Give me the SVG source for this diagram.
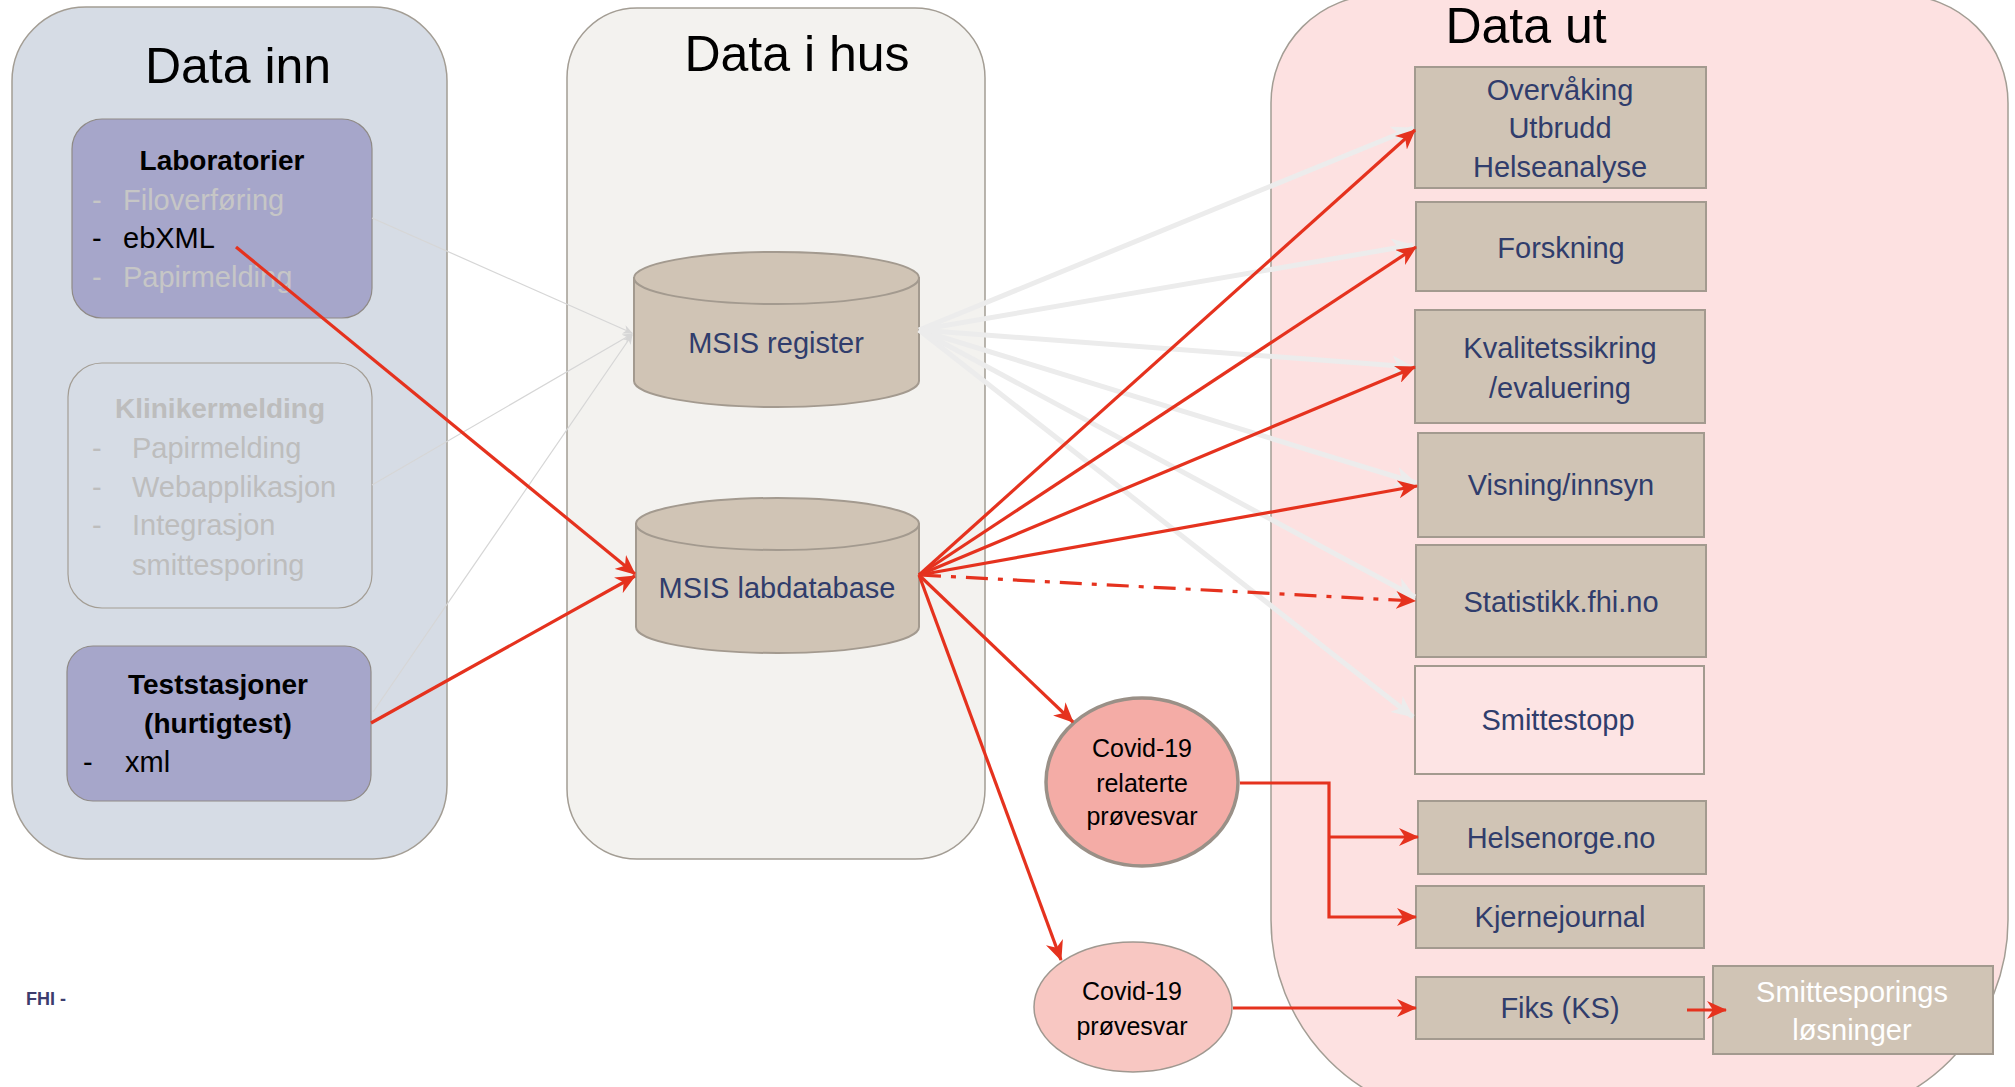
<svg xmlns="http://www.w3.org/2000/svg" width="2015" height="1087" viewBox="0 0 2015 1087">
<style>
text{font-family:"Liberation Sans",Arial,sans-serif}
.title{font-size:50px;fill:#000;text-anchor:middle}
.panel{stroke:#a39d94;stroke-width:1.5}
.lav{fill:#a6a6ca;stroke:#8f8a86;stroke-width:1.2}
.bx{fill:#d0c4b5;stroke:#a39a8f;stroke-width:2}
.bt{font-size:29px;fill:#303d6c;text-anchor:middle}
.hd{font-size:28px;font-weight:bold;text-anchor:middle}
.it{font-size:29px}
.fade{fill:#c6c6c6}
.fade2{fill:#bdbdbd}
.red{fill:none;stroke:#e5321e;stroke-width:3.2}
.gray{fill:none;stroke:#ececec;stroke-width:5}
.thin{fill:none;stroke:#d6d6d6;stroke-width:1.2}
.et{font-size:25px;fill:#000;text-anchor:middle}
</style>
<defs>
<marker id="ar" markerUnits="userSpaceOnUse" markerWidth="20" markerHeight="18" refX="19" refY="9" orient="auto" viewBox="0 0 20 18"><path d="M0,0 L20,9 L0,18 L6,9 z" fill="#e5321e"/></marker>
<marker id="ag" markerUnits="userSpaceOnUse" markerWidth="22" markerHeight="20" refX="21" refY="10" orient="auto" viewBox="0 0 22 20"><path d="M0,0 L22,10 L0,20 L6,10 z" fill="#ececec"/></marker>
<marker id="at" markerUnits="userSpaceOnUse" markerWidth="10" markerHeight="9" refX="9" refY="4.5" orient="auto" viewBox="0 0 10 9"><path d="M0,0 L10,4.5 L0,9 L3,4.5 z" fill="#d6d6d6"/></marker>
</defs>
<rect width="2015" height="1087" fill="#fff"/>

<g id="panel-data-inn">
<rect class="panel" x="12" y="7" width="435" height="852" rx="74" ry="74" fill="#d6dce5"/>
<text class="title" x="238" y="83">Data inn</text>
</g>
<g id="panel-data-i-hus">
<rect class="panel" x="567" y="8" width="418" height="851" rx="70" ry="70" fill="#f3f2ef"/>
<text class="title" x="797" y="71">Data i hus</text>
</g>
<g id="panel-data-ut">
<path class="panel" fill="#fde1e1" d="M1379,-5 H1900 A108,108 0 0 1 2008,103 V920 A199,199 0 0 1 1809,1119 H1470 A199,199 0 0 1 1271,920 V103 A108,108 0 0 1 1379,-5 Z"/>
<text class="title" x="1526" y="43">Data ut</text>
</g>

<g id="node-laboratorier">
<rect class="lav" x="72" y="119" width="300" height="199" rx="30" ry="30"/>
<text class="hd" x="222" y="170" fill="#000">Laboratorier</text>
<text class="it fade" x="92" y="210">-</text><text class="it fade" x="123" y="210">Filoverføring</text>
<text class="it" x="92" y="248" fill="#000">-</text><text class="it" x="123" y="248" fill="#000">ebXML</text>
<text class="it fade" x="92" y="287">-</text><text class="it fade" x="123" y="287">Papirmelding</text>
</g>
<g id="node-klinikermelding">
<rect x="68" y="363" width="304" height="245" rx="34" ry="34" fill="none" stroke="#a39d94" stroke-width="1.2"/>
<text class="hd fade2" x="220" y="418">Klinikermelding</text>
<text class="it fade2" x="92" y="458">-</text><text class="it fade2" x="132" y="458">Papirmelding</text>
<text class="it fade2" x="92" y="497">-</text><text class="it fade2" x="132" y="497">Webapplikasjon</text>
<text class="it fade2" x="92" y="535">-</text><text class="it fade2" x="132" y="535">Integrasjon</text>
<text class="it fade2" x="132" y="575">smittesporing</text>
</g>
<g id="node-teststasjoner">
<rect class="lav" x="67" y="646" width="304" height="155" rx="26" ry="26"/>
<text class="hd" x="218" y="694" fill="#000">Teststasjoner</text>
<text class="hd" x="218" y="733" fill="#000">(hurtigtest)</text>
<text class="it" x="83" y="772" fill="#000">-</text><text class="it" x="125" y="772" fill="#000">xml</text>
</g>

<g id="node-msis-register">
<path class="bx" stroke-width="1.2" d="M634,278 L634,381 A142.5,26 0 0,0 919,381 L919,278 Z"/>
<ellipse class="bx" stroke-width="1.2" cx="776.5" cy="278" rx="142.5" ry="26"/>
<text class="bt" x="776" y="353">MSIS register</text>
</g>
<g id="node-msis-labdatabase">
<path class="bx" stroke-width="1.2" d="M636,524 L636,627 A141.5,26 0 0,0 919,627 L919,524 Z"/>
<ellipse class="bx" stroke-width="1.2" cx="777.5" cy="524" rx="141.5" ry="26"/>
<text class="bt" x="777" y="598">MSIS labdatabase</text>
</g>

<g id="node-covid-relaterte">
<ellipse cx="1142" cy="782" rx="96" ry="84" fill="#f4aca6" stroke="#9a9087" stroke-width="3.5"/>
<text class="et" x="1142" y="757">Covid-19</text>
<text class="et" x="1142" y="792">relaterte</text>
<text class="et" x="1142" y="825">prøvesvar</text>
</g>
<g id="node-covid-provesvar">
<ellipse cx="1133" cy="1007" rx="99" ry="65" fill="#f8c7c2" stroke="#a09890" stroke-width="1.5"/>
<text class="et" x="1132" y="1000">Covid-19</text>
<text class="et" x="1132" y="1035">prøvesvar</text>
</g>

<g id="node-overvaking">
<rect class="bx" x="1415" y="67" width="291" height="121"/>
<text class="bt" x="1560" y="100">Overvåking</text>
<text class="bt" x="1560" y="138">Utbrudd</text>
<text class="bt" x="1560" y="177">Helseanalyse</text>
</g>
<g id="node-forskning">
<rect class="bx" x="1416" y="202" width="290" height="89"/>
<text class="bt" x="1561" y="258">Forskning</text>
</g>
<g id="node-kvalitetssikring">
<rect class="bx" x="1415" y="310" width="290" height="113"/>
<text class="bt" x="1560" y="358">Kvalitetssikring</text>
<text class="bt" x="1560" y="398">/evaluering</text>
</g>
<g id="node-visning">
<rect class="bx" x="1418" y="433" width="286" height="104"/>
<text class="bt" x="1561" y="495">Visning/innsyn</text>
</g>
<g id="node-statistikk">
<rect class="bx" x="1416" y="545" width="290" height="112"/>
<text class="bt" x="1561" y="612">Statistikk.fhi.no</text>
</g>
<g id="node-smittestopp">
<rect x="1415" y="666" width="289" height="108" fill="#fde4e4" stroke="#a39a8f" stroke-width="2"/>
<text class="bt" x="1558" y="730">Smittestopp</text>
</g>
<g id="node-helsenorge">
<rect class="bx" x="1418" y="801" width="288" height="73"/>
<text class="bt" x="1561" y="848">Helsenorge.no</text>
</g>
<g id="node-kjernejournal">
<rect class="bx" x="1416" y="886" width="288" height="62"/>
<text class="bt" x="1560" y="927">Kjernejournal</text>
</g>
<g id="node-fiks">
<rect class="bx" x="1416" y="977" width="288" height="62"/>
<text class="bt" x="1560" y="1018">Fiks (KS)</text>
</g>
<g id="node-smittesporings">
<rect class="bx" x="1713" y="966" width="280" height="88"/>
<text class="bt" x="1852" y="1002" style="fill:#fff">Smittesporings</text>
<text class="bt" x="1852" y="1040" style="fill:#fff">løsninger</text>
</g>

<g id="connectors">
<path class="thin" d="M372,218 L632,333" marker-end="url(#at)"/>
<path class="thin" d="M372,485 L632,334" marker-end="url(#at)"/>
<path class="thin" d="M373,712 L632,335" marker-end="url(#at)"/>

<path class="gray" d="M919,330 L1413,128" marker-end="url(#ag)"/>
<path class="gray" d="M919,330 L1413,245" marker-end="url(#ag)"/>
<path class="gray" d="M919,330 L1413,367" marker-end="url(#ag)"/>
<path class="gray" d="M919,330 L1416,483" marker-end="url(#ag)"/>
<path class="gray" d="M919,330 L1415,597" marker-end="url(#ag)"/>
<path class="gray" d="M919,330 L1413,717" marker-end="url(#ag)"/>

<path class="red" d="M236,247 L635,574" marker-end="url(#ar)"/>
<path class="red" d="M371,723 L635,576" marker-end="url(#ar)"/>

<path class="red" d="M919,575 L1415,130" marker-end="url(#ar)"/>
<path class="red" d="M919,575 L1416,247" marker-end="url(#ar)"/>
<path class="red" d="M919,575 L1415,367" marker-end="url(#ar)"/>
<path class="red" d="M919,575 L1417,486" marker-end="url(#ar)"/>
<path class="red" d="M919,575 L1415,601" stroke-dasharray="22 10 5 10" marker-end="url(#ar)"/>
<path class="red" stroke-width="2.6" d="M919,575 L1073,722" marker-end="url(#ar)"/>
<path class="red" stroke-width="2.6" d="M919,575 L1061,960" marker-end="url(#ar)"/>

<path class="red" stroke-width="3.6" d="M1240,783 H1329 V917 H1416" marker-end="url(#ar)"/>
<path class="red" stroke-width="3.6" d="M1329,837 H1418" marker-end="url(#ar)"/>
<path class="red" stroke-width="3.6" d="M1233,1008 H1416" marker-end="url(#ar)"/>
<path class="red" stroke-width="3.6" d="M1687,1010 H1726" marker-end="url(#ar)"/>
</g>

<g id="footer">
<text x="26" y="1005" font-size="18" font-weight="bold" fill="#3c3c6e">FHI -</text>
</g>
</svg>
